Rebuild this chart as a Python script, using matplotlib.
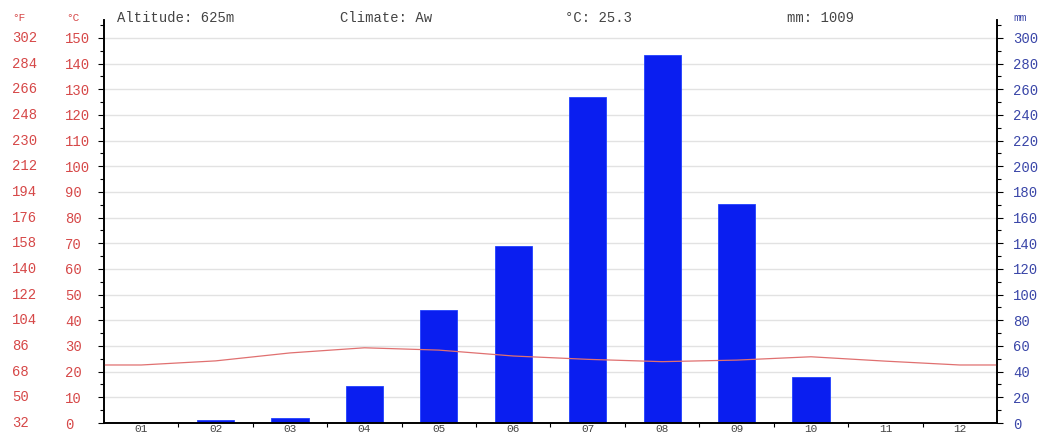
import numpy as np
import matplotlib
matplotlib.use("Agg")
import matplotlib.pyplot as plt
from matplotlib.ticker import MultipleLocator

# ---------------------------------------------------------------------------
# data
# ---------------------------------------------------------------------------
months = ["01", "02", "03", "04", "05", "06", "07", "08", "09", "10", "11", "12"]
temp_c = [22.6, 24.2, 27.3, 29.3, 28.4, 26.1, 24.8, 23.9, 24.5, 25.8, 24.1, 22.6]
precip_mm = [0, 2, 4, 29, 88, 138, 254, 287, 171, 36, 0, 0]

altitude = "625m"
climate = "Aw"
mean_c = "25.3"
total_mm = "1009"

plt.rcParams["font.family"] = ["Liberation Mono", "DejaVu Sans Mono"]

RED = "#d64848"
BLUE = "#3a46a8"
GREY = "#444444"
FS = 10

fig = plt.figure(figsize=(10.4, 4.36), dpi=100)
axp = fig.add_axes([104 / 1040, 1 - 423 / 436, 893 / 1040, 403 / 436])
ax = axp.twinx()
ax.yaxis.tick_left()
axp.yaxis.tick_right()
ax.set_zorder(axp.get_zorder() + 1)
ax.patch.set_visible(False)

x = np.arange(1, 13)

# precipitation bars + grid on the lower axes
axp.bar(x, precip_mm, width=0.5, color="#0a1ef0", edgecolor="#2040ff", lw=0.6, zorder=2)
axp.set_ylim(0, 314)
axp.set_yticks(np.arange(0, 301, 20))
axp.yaxis.set_minor_locator(MultipleLocator(10))
axp.grid(axis="y", which="major", color="#e2e2e2", lw=1.0, zorder=0)
axp.set_axisbelow(True)
axp.tick_params(axis="y", which="major", direction="out", length=4, width=0.8,
                colors="black", labelcolor=BLUE, labelsize=FS, pad=7.5)
axp.tick_params(axis="y", which="minor", direction="out", length=3, width=0.8)
for lbl in axp.get_yticklabels():
    lbl.set_horizontalalignment("left")

# temperature line on top
ax.plot(np.r_[0.5, x, 12.5], np.r_[temp_c[0], temp_c, temp_c[-1]],
        color="#e07070", lw=0.9)
ax.set_ylim(0, 157)
ax.set_yticks(np.arange(0, 151, 10))
ax.yaxis.set_minor_locator(MultipleLocator(5))
ax.tick_params(axis="y", which="major", direction="out", length=4, width=0.8,
               colors="black", labelcolor=RED, labelsize=FS, pad=24)
ax.tick_params(axis="y", which="minor", direction="out", length=3, width=0.8)
for lbl in ax.get_yticklabels():
    lbl.set_horizontalalignment("left")

# fahrenheit column derived from the celsius ticks
for c in np.arange(0, 151, 10):
    ax.text(-0.103, c, f"{c * 9 / 5 + 32:.0f}", transform=ax.get_yaxis_transform(),
            color=RED, fontsize=FS, ha="left", va="center")

# month labels
axp.set_xlim(0.5, 12.5)
axp.set_xticks(x)
axp.set_xticklabels(months, fontsize=8, color=GREY)
axp.set_xticks(np.arange(1.5, 12, 1), minor=True)
axp.tick_params(axis="x", which="major", length=0, pad=0.5)
axp.tick_params(axis="x", which="minor", direction="out", length=3, width=0.8)
ax.tick_params(axis="x", length=0)

for a in (ax, axp):
    a.spines["top"].set_visible(False)
    for s in ("left", "right", "bottom"):
        a.spines[s].set_color("black")
        a.spines[s].set_linewidth(1.2)

# header line
hy = 1 - 18 / 436
fig.text(12 / 1040, hy, "°F", color=RED, fontsize=8, va="center")
fig.text(66 / 1040, hy, "°C", color=RED, fontsize=8, va="center")
fig.text(1013 / 1040, hy, "mm", color=BLUE, fontsize=8, va="center")
fig.text(117 / 1040, hy, f"Altitude: {altitude}", color=GREY, fontsize=FS, va="center")
fig.text(340 / 1040, hy, f"Climate: {climate}", color=GREY, fontsize=FS, va="center")
fig.text(565 / 1040, hy, f"°C: {mean_c}", color=GREY, fontsize=FS, va="center")
fig.text(787 / 1040, hy, f"mm: {total_mm}", color=GREY, fontsize=FS, va="center")

fig.savefig("out.png", dpi=100)
